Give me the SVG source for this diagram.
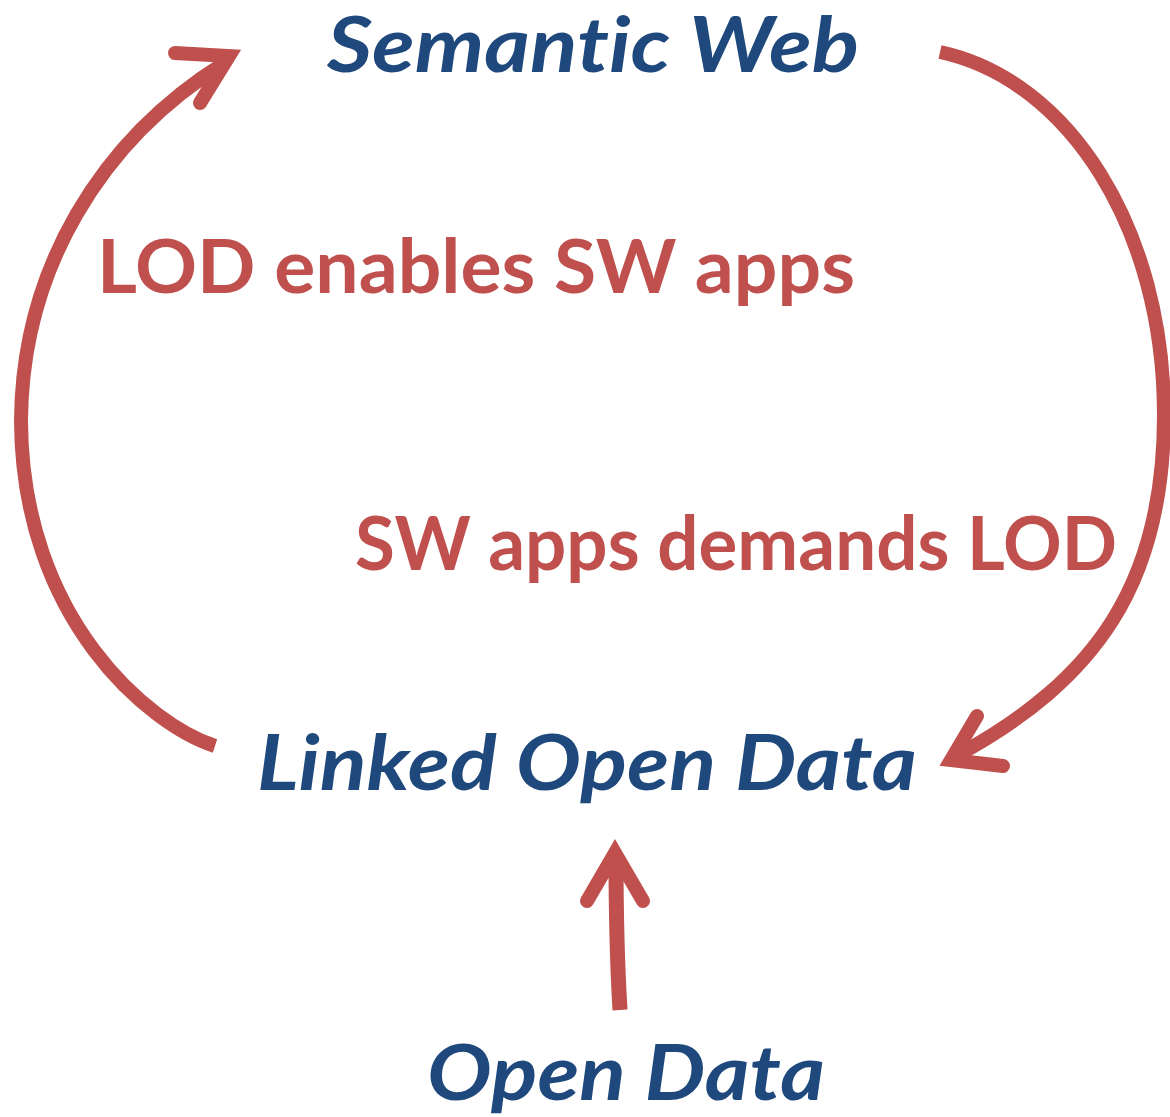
<svg xmlns="http://www.w3.org/2000/svg" width="1170" height="1117" viewBox="0 0 1170 1117">
  <style>
    text { font-variant-ligatures: none; font-feature-settings: "liga" 0, "clig" 0, "calt" 0, "dlig" 0; }
    .node { font-family: Lato, "Open Sans", "Liberation Sans", sans-serif; font-weight: bold; font-style: italic; fill: #1F497D; font-size: 77px; }
    .label { font-family: Lato, "Open Sans", "Liberation Sans", sans-serif; font-weight: bold; fill: #C0504D; font-size: 74px; }
    .conn { fill: none; stroke: #C0504D; stroke-width: 14; }
    .head { fill: none; stroke: #C0504D; stroke-width: 14; stroke-linecap: round; stroke-linejoin: miter; stroke-miterlimit: 10; }
  </style>
  <rect width="1170" height="1117" fill="#FFFFFF"/>

  <g id="connectors">
    <!-- Linked Open Data -> Semantic Web (left loop) -->
    <path class="conn" d="M215,746 C150,725 22,620 21,421 C22,270 100,140 226,62"/>
    <polyline class="head" points="175,53 229,56 200,103"/>
    <!-- Semantic Web -> Linked Open Data (right loop) -->
    <path class="conn" d="M940,52 C1070,80 1164,230 1164,415 C1164,585 1095,680 958,755"/>
    <polyline class="head" points="977,716 951,760 1003,766"/>
    <!-- Open Data -> Linked Open Data -->
    <path class="conn" d="M620,1010 C617,960 616,910 616,856" style="stroke-width:15"/>
    <polyline class="head" points="587,901 615,853 643,901"/>
  </g>

  <g id="node-semantic-web">
    <text class="node" x="327" y="72" textLength="532" lengthAdjust="spacingAndGlyphs">Semantic Web</text>
  </g>
  <g id="node-linked-open-data">
    <text class="node" x="257" y="790" textLength="660" lengthAdjust="spacingAndGlyphs">Linked Open Data</text>
  </g>
  <g id="node-open-data">
    <text class="node" x="427" y="1100" textLength="398" lengthAdjust="spacingAndGlyphs">Open Data</text>
  </g>

  <g id="labels">
    <text class="label" x="97" y="293" textLength="758" lengthAdjust="spacingAndGlyphs">LOD enables SW apps</text>
    <text class="label" x="355" y="570" textLength="762" lengthAdjust="spacingAndGlyphs">SW apps demands LOD</text>
  </g>
</svg>
